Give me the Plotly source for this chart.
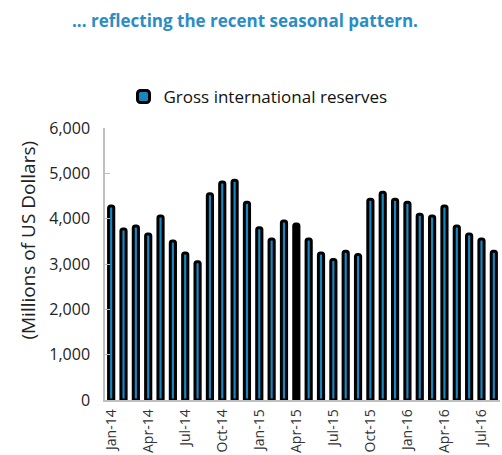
import plotly.graph_objects as go

# Monthly gross international reserves, Jan-2014 to Aug-2016 (millions of US dollars)
months = [
    "Jan-14", "Feb-14", "Mar-14", "Apr-14", "May-14", "Jun-14", "Jul-14", "Aug-14",
    "Sep-14", "Oct-14", "Nov-14", "Dec-14", "Jan-15", "Feb-15", "Mar-15", "Apr-15",
    "May-15", "Jun-15", "Jul-15", "Aug-15", "Sep-15", "Oct-15", "Nov-15", "Dec-15",
    "Jan-16", "Feb-16", "Mar-16", "Apr-16", "May-16", "Jun-16", "Jul-16", "Aug-16",
]
reserves = [
    4280, 3770, 3840, 3660, 4060, 3510, 3240, 3050,
    4550, 4810, 4850, 4360, 3800, 3550, 3950, 3880,
    3550, 3240, 3100, 3280, 3210, 4430, 4580, 4430,
    4360, 4100, 4060, 4280, 3840, 3660, 3550, 3280,
]
tick_labels = months[::3]
y_ticks = [0, 1000, 2000, 3000, 4000, 5000, 6000]

BLUE = "#1a86bf"
fill_colors = [BLUE] * len(months)
fill_colors[months.index("Apr-15")] = "#000000"

fig = go.Figure()
fig.add_trace(go.Bar(
    x=months,
    y=reserves,
    name="Gross international reserves",
    width=0.42,
    marker=dict(color=fill_colors, line=dict(color="#000000", width=3), cornerradius=2),
))

W, H = 502, 455
ml, mr, mt, mb = 104.5, 2, 128, 55
plot_w = W - ml - mr
plot_h = H - mt - mb

fig.update_layout(
    width=W, height=H,
    margin=dict(l=ml, r=mr, t=mt, b=mb, autoexpand=False),
    paper_bgcolor="white",
    plot_bgcolor="white",
    font=dict(family="Open Sans, DejaVu Sans, sans-serif", color="#222222"),
    showlegend=True,
    legend=dict(
        orientation="h", x=(123 - ml) / plot_w, y=(H - mb - 97) / plot_h,
        xanchor="left", yanchor="middle",
        font=dict(size=17, color="#111111"), itemwidth=30, bgcolor="rgba(0,0,0,0)",
    ),
)

fig.update_xaxes(
    type="category",
    range=[-0.5, len(months) - 0.5],
    tickmode="array",
    tickvals=tick_labels,
    ticktext=tick_labels,
    tickangle=-90,
    tickfont=dict(size=14, color="#333333"),
    ticklabelstandoff=2,
    showline=True, linecolor="#bfbfbf", linewidth=1.5,
    ticks="", showgrid=False, zeroline=False,
    automargin=False,
)

fig.update_yaxes(
    range=[0, 6000],
    tickmode="array",
    tickvals=y_ticks,
    tickformat=",",
    tickfont=dict(size=16, color="#222222"),
    showline=True, linecolor="#bfbfbf", linewidth=1.5,
    ticks="inside", ticklen=5, tickcolor="#bfbfbf",
    ticklabelstandoff=10,
    showgrid=False, zeroline=False,
    automargin=False,
)

fig.add_annotation(
    text="(Millions of US Dollars)",
    xref="paper", yref="paper",
    x=(27 - ml) / plot_w, y=(H - mb - 240) / plot_h,
    textangle=-90, showarrow=False,
    font=dict(size=19, color="#222222"),
    xanchor="center", yanchor="middle",
)

fig.add_annotation(
    text="<b>... reflecting the recent seasonal pattern.</b>",
    xref="paper", yref="paper",
    x=(245 - ml) / plot_w, y=(H - mb - 20) / plot_h,
    showarrow=False,
    font=dict(size=17, color="#2a8dc5"),
    xanchor="center", yanchor="middle",
)

fig.write_html("out.html")
